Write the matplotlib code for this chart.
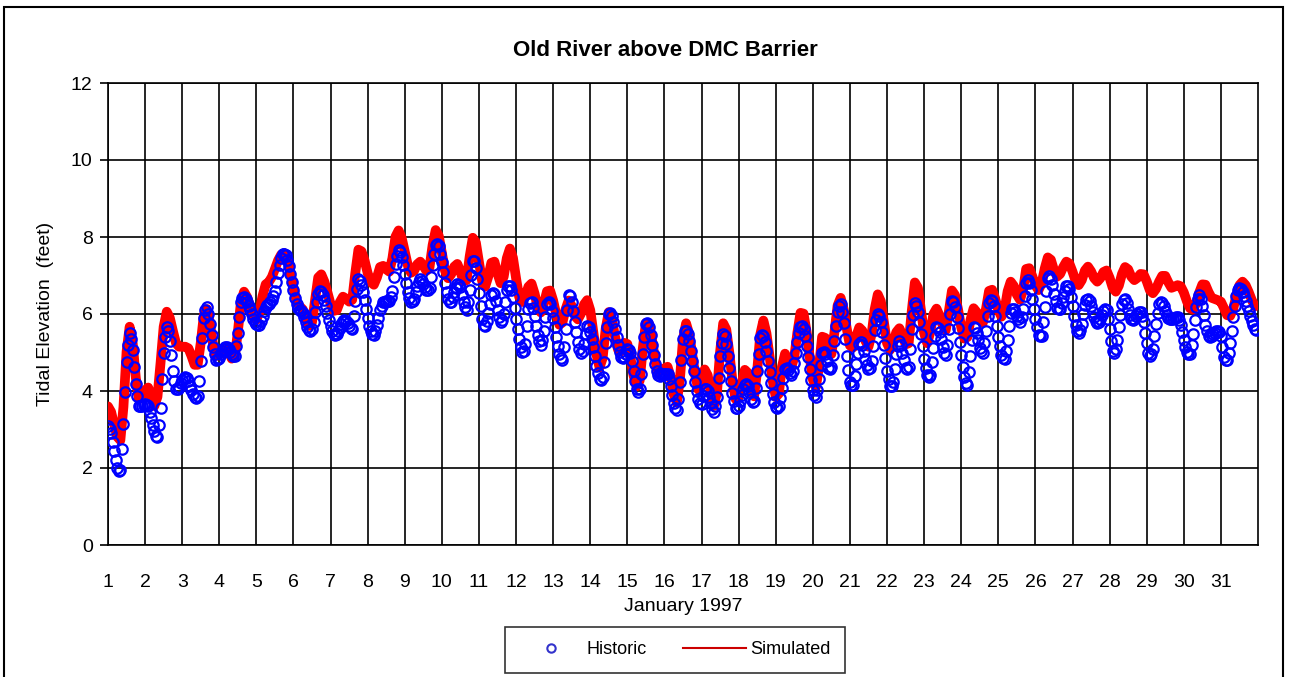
"""
Tidal elevation at Old River above the DMC Barrier, January 1997.
Historic record (open circles) against the simulated stage (red line).

Run:
    python plot.py
"""
import numpy as np
import matplotlib
matplotlib.use("Agg")
import matplotlib.pyplot as plt
from matplotlib.lines import Line2D
from matplotlib.patches import Rectangle

matplotlib.rcParams.update({
    'font.family': ['Liberation Sans', 'DejaVu Sans'],
    'font.size': 13,
    'axes.linewidth': 1.2,
})

TITLE = "Old River above DMC Barrier"
X_LABEL = "January 1997"
Y_LABEL = "Tidal Elevation  (feet)"
DAYS = list(range(1, 32))
Y_TICKS = [0, 2, 4, 6, 8, 10, 12]
HIST_PER_DAY = 24  # hourly gauge readings
SIM_PER_DAY = 12   # model output every two hours

# observed stage in feet, hourly from 1 Jan 00:00 (one row per day)
historic_ft = [
    3.10, 3.01, 2.90, 2.67, 2.43, 2.20, 2.00, 1.92, 1.96, 2.50, 3.14, 3.97, 4.76, 5.20, 5.50, 5.35, 5.06, 4.62, 4.17, 3.87, 3.62, 3.60, 3.62, 3.63,
    3.65, 3.64, 3.60, 3.46, 3.30, 3.12, 2.95, 2.84, 2.80, 3.12, 3.57, 4.30, 5.00, 5.40, 5.67, 5.55, 5.29, 4.93, 4.52, 4.26, 4.05, 4.05, 4.10, 4.20,
    4.29, 4.35, 4.37, 4.33, 4.25, 4.14, 4.03, 3.93, 3.85, 3.83, 3.87, 4.27, 4.78, 5.37, 5.90, 6.10, 6.17, 6.00, 5.75, 5.46, 5.15, 4.96, 4.81, 4.82,
    4.86, 4.95, 5.03, 5.10, 5.15, 5.14, 5.09, 5.02, 4.95, 4.92, 4.92, 5.17, 5.50, 5.92, 6.30, 6.42, 6.44, 6.40, 6.31, 6.21, 6.10, 5.99, 5.87, 5.79,
    5.73, 5.71, 5.72, 5.83, 5.96, 6.08, 6.18, 6.23, 6.27, 6.31, 6.36, 6.47, 6.61, 6.83, 7.06, 7.28, 7.46, 7.55, 7.57, 7.52, 7.40, 7.24, 7.05, 6.84,
    6.62, 6.42, 6.25, 6.15, 6.10, 6.07, 6.02, 5.91, 5.78, 5.66, 5.58, 5.56, 5.61, 5.80, 6.05, 6.30, 6.53, 6.60, 6.57, 6.49, 6.36, 6.20, 6.03, 5.85,
    5.68, 5.56, 5.47, 5.45, 5.48, 5.55, 5.64, 5.73, 5.81, 5.84, 5.82, 5.76, 5.68, 5.63, 5.62, 5.95, 6.33, 6.65, 6.90, 6.85, 6.75, 6.58, 6.36, 6.13,
    5.89, 5.70, 5.55, 5.47, 5.46, 5.57, 5.71, 5.90, 6.10, 6.22, 6.30, 6.32, 6.33, 6.34, 6.35, 6.45, 6.60, 6.95, 7.29, 7.50, 7.65, 7.60, 7.47, 7.27,
    7.03, 6.80, 6.58, 6.42, 6.31, 6.33, 6.40, 6.56, 6.73, 6.84, 6.90, 6.86, 6.79, 6.70, 6.63, 6.63, 6.68, 6.95, 7.26, 7.55, 7.80, 7.83, 7.76, 7.57,
    7.34, 7.08, 6.81, 6.58, 6.38, 6.32, 6.32, 6.43, 6.56, 6.68, 6.79, 6.76, 6.69, 6.51, 6.32, 6.18, 6.10, 6.30, 6.63, 7.02, 7.37, 7.38, 7.20, 6.90,
    6.54, 6.20, 5.88, 5.72, 5.68, 5.81, 6.03, 6.27, 6.49, 6.55, 6.52, 6.33, 6.10, 5.91, 5.78, 5.84, 6.01, 6.32, 6.62, 6.72, 6.74, 6.62, 6.43, 6.16,
    5.88, 5.60, 5.34, 5.15, 5.01, 5.05, 5.23, 5.68, 6.13, 6.28, 6.30, 6.16, 5.95, 5.70, 5.46, 5.30, 5.20, 5.33, 5.57, 5.93, 6.27, 6.32, 6.25, 6.09,
    5.89, 5.65, 5.40, 5.17, 4.95, 4.85, 4.80, 5.15, 5.62, 6.10, 6.50, 6.46, 6.32, 6.07, 5.80, 5.54, 5.28, 5.10, 4.98, 5.05, 5.23, 5.48, 5.68, 5.65,
    5.54, 5.35, 5.13, 4.90, 4.66, 4.47, 4.32, 4.28, 4.36, 4.75, 5.24, 5.65, 6.00, 6.03, 5.95, 5.80, 5.62, 5.40, 5.19, 5.02, 4.89, 4.86, 4.89, 4.97,
    5.08, 5.07, 4.99, 4.77, 4.51, 4.27, 4.05, 3.98, 4.04, 4.44, 4.95, 5.40, 5.75, 5.77, 5.65, 5.45, 5.19, 4.94, 4.69, 4.52, 4.41, 4.40, 4.43, 4.44,
    4.44, 4.45, 4.43, 4.30, 4.13, 3.90, 3.70, 3.55, 3.50, 3.80, 4.23, 4.80, 5.35, 5.55, 5.57, 5.48, 5.29, 5.05, 4.79, 4.51, 4.23, 4.00, 3.80, 3.70,
    3.67, 3.88, 4.05, 4.06, 3.99, 3.85, 3.68, 3.54, 3.46, 3.60, 3.84, 4.35, 4.91, 5.25, 5.48, 5.42, 5.23, 4.92, 4.59, 4.27, 3.96, 3.74, 3.57, 3.56,
    3.62, 3.75, 3.90, 4.04, 4.15, 4.18, 4.13, 3.97, 3.78, 3.72, 3.74, 4.08, 4.52, 4.97, 5.37, 5.45, 5.42, 5.27, 5.05, 4.78, 4.49, 4.20, 3.93, 3.72,
    3.58, 3.56, 3.62, 3.83, 4.09, 4.34, 4.56, 4.60, 4.55, 4.48, 4.41, 4.53, 4.73, 5.00, 5.27, 5.50, 5.66, 5.68, 5.62, 5.43, 5.18, 4.88, 4.57, 4.28,
    4.03, 3.90, 3.84, 4.02, 4.31, 4.67, 4.99, 5.02, 4.95, 4.78, 4.60, 4.58, 4.62, 4.93, 5.29, 5.68, 6.05, 6.20, 6.26, 6.06, 5.76, 5.35, 4.92, 4.55,
    4.23, 4.15, 4.16, 4.40, 4.70, 4.98, 5.23, 5.26, 5.20, 5.03, 4.83, 4.68, 4.56, 4.60, 4.79, 5.17, 5.58, 5.85, 6.01, 5.96, 5.80, 5.52, 5.20, 4.85,
    4.52, 4.30, 4.12, 4.13, 4.24, 4.58, 4.96, 5.17, 5.30, 5.20, 5.00, 4.80, 4.60, 4.56, 4.62, 5.10, 5.60, 5.98, 6.28, 6.22, 6.06, 5.80, 5.48, 5.16,
    4.84, 4.60, 4.41, 4.37, 4.42, 4.75, 5.11, 5.42, 5.65, 5.63, 5.53, 5.35, 5.14, 5.00, 4.93, 5.20, 5.60, 6.00, 6.35, 6.32, 6.18, 5.93, 5.63, 5.28,
    4.93, 4.62, 4.36, 4.20, 4.16, 4.50, 4.92, 5.32, 5.66, 5.63, 5.50, 5.32, 5.12, 5.03, 4.99, 5.24, 5.57, 5.95, 6.29, 6.37, 6.35, 6.20, 5.96, 5.69,
    5.41, 5.16, 4.94, 4.85, 4.82, 5.05, 5.33, 5.70, 6.02, 6.12, 6.13, 6.06, 5.95, 5.86, 5.80, 5.92, 6.12, 6.47, 6.80, 6.88, 6.80, 6.63, 6.40, 6.13,
    5.87, 5.65, 5.46, 5.42, 5.44, 5.80, 6.19, 6.60, 6.94, 7.00, 6.92, 6.75, 6.53, 6.33, 6.16, 6.12, 6.14, 6.28, 6.44, 6.60, 6.74, 6.72, 6.65, 6.45,
    6.22, 5.96, 5.72, 5.57, 5.50, 5.58, 5.75, 6.00, 6.23, 6.36, 6.40, 6.33, 6.21, 6.06, 5.91, 5.81, 5.76, 5.79, 5.87, 5.98, 6.09, 6.13, 6.10, 5.88,
    5.60, 5.30, 5.05, 5.00, 5.08, 5.33, 5.65, 5.97, 6.27, 6.37, 6.39, 6.28, 6.13, 5.98, 5.86, 5.85, 5.88, 5.94, 6.00, 6.04, 6.06, 5.96, 5.79, 5.50,
    5.24, 5.00, 4.90, 4.96, 5.10, 5.42, 5.75, 6.03, 6.25, 6.30, 6.29, 6.20, 6.09, 5.98, 5.89, 5.86, 5.86, 5.88, 5.90, 5.92, 5.93, 5.85, 5.72, 5.52,
    5.33, 5.15, 5.01, 4.95, 4.96, 5.20, 5.49, 5.85, 6.18, 6.38, 6.49, 6.40, 6.22, 5.98, 5.72, 5.55, 5.42, 5.41, 5.44, 5.47, 5.51, 5.55, 5.57, 5.52,
    5.43, 5.15, 4.89, 4.80, 4.80, 4.98, 5.24, 5.57, 5.91, 6.22, 6.48, 6.62, 6.67, 6.64, 6.57, 6.47, 6.35, 6.21, 6.07, 5.94, 5.81, 5.71, 5.62, 5.58,
]

# simulated stage in feet, 2-hourly from 1 Jan 00:00 (one row per day)
simulated_ft = [
    3.60, 3.46, 3.12, 2.81, 2.72, 3.59, 5.02, 5.67, 5.23, 4.34, 3.79, 3.84,
    4.02, 4.09, 3.86, 3.61, 3.85, 4.73, 5.67, 6.06, 5.90, 5.56, 5.24, 5.15,
    5.15, 5.15, 5.11, 4.91, 4.68, 4.68, 5.25, 5.97, 6.13, 5.75, 5.21, 4.91,
    4.95, 5.07, 5.15, 5.05, 4.84, 4.89, 5.53, 6.31, 6.58, 6.44, 6.19, 5.95,
    5.85, 6.05, 6.47, 6.77, 6.83, 6.96, 7.17, 7.39, 7.54, 7.58, 7.41, 7.08,
    6.68, 6.34, 6.20, 6.12, 5.88, 5.69, 5.79, 6.37, 6.95, 7.03, 6.84, 6.56,
    6.26, 6.08, 6.10, 6.31, 6.45, 6.40, 6.32, 6.37, 7.07, 7.67, 7.63, 7.39,
    7.06, 6.83, 6.76, 6.95, 7.22, 7.25, 7.16, 7.10, 7.45, 8.01, 8.17, 7.98,
    7.62, 7.26, 7.07, 7.12, 7.29, 7.36, 7.25, 7.12, 7.21, 7.79, 8.18, 8.03,
    7.59, 7.13, 6.93, 7.03, 7.23, 7.30, 7.10, 6.85, 6.88, 7.50, 7.98, 7.86,
    7.35, 6.86, 6.71, 6.97, 7.33, 7.36, 7.05, 6.80, 6.97, 7.45, 7.70, 7.46,
    6.93, 6.44, 6.31, 6.47, 6.71, 6.79, 6.53, 6.17, 6.04, 6.27, 6.59, 6.61,
    6.35, 5.99, 5.72, 5.78, 6.12, 6.35, 6.21, 5.95, 5.86, 6.01, 6.25, 6.36,
    6.10, 5.53, 4.95, 4.61, 4.85, 5.63, 6.05, 5.86, 5.42, 5.07, 5.03, 5.25,
    5.22, 4.87, 4.40, 4.12, 4.27, 5.11, 5.77, 5.75, 5.32, 4.79, 4.50, 4.53,
    4.59, 4.63, 4.37, 3.91, 3.70, 4.30, 5.35, 5.76, 5.48, 4.95, 4.39, 4.03,
    4.15, 4.56, 4.41, 3.94, 3.61, 3.97, 5.02, 5.76, 5.60, 4.99, 4.26, 3.79,
    3.83, 4.21, 4.55, 4.47, 4.03, 3.86, 4.54, 5.47, 5.83, 5.50, 4.90, 4.27,
    3.84, 3.93, 4.63, 4.97, 4.77, 4.60, 4.88, 5.52, 6.03, 6.01, 5.53, 4.88,
    4.30, 4.10, 4.64, 5.41, 5.38, 5.00, 4.96, 5.53, 6.22, 6.42, 6.12, 5.61,
    5.18, 5.13, 5.41, 5.65, 5.57, 5.30, 5.15, 5.47, 6.12, 6.51, 6.33, 5.79,
    5.24, 5.07, 5.25, 5.53, 5.63, 5.45, 5.21, 5.24, 6.08, 6.82, 6.68, 6.10,
    5.50, 5.24, 5.53, 6.00, 6.14, 5.95, 5.70, 5.58, 6.07, 6.61, 6.49, 6.11,
    5.65, 5.36, 5.40, 5.85, 6.15, 6.05, 5.84, 5.77, 6.13, 6.60, 6.63, 6.40,
    6.10, 5.93, 6.10, 6.59, 6.84, 6.73, 6.50, 6.37, 6.62, 7.17, 7.19, 6.98,
    6.74, 6.62, 6.79, 7.18, 7.47, 7.41, 7.14, 6.97, 7.04, 7.22, 7.36, 7.31,
    7.10, 6.86, 6.75, 6.88, 7.13, 7.23, 7.11, 6.93, 6.84, 6.93, 7.09, 7.13,
    6.94, 6.68, 6.58, 6.74, 7.04, 7.22, 7.16, 6.97, 6.88, 6.94, 7.04, 7.03,
    6.85, 6.62, 6.54, 6.65, 6.84, 6.99, 6.99, 6.82, 6.68, 6.71, 6.75, 6.72,
    6.56, 6.33, 6.15, 6.11, 6.28, 6.56, 6.77, 6.76, 6.57, 6.42, 6.39, 6.36,
    6.32, 6.15, 5.97, 5.95, 6.14, 6.48, 6.75, 6.84, 6.75, 6.57, 6.36, 6.20,
]

HIST_COLOR = "#0000FF"
SIM_COLOR = "#FF0000"


def make_figure() -> None:
    fig = plt.figure(figsize=(12.9, 6.77), dpi=100)
    ax = fig.add_axes([108 / 1290, 1 - 545 / 677, 1150 / 1290, 462 / 677])

    t_hist = DAYS[0] + np.arange(len(historic_ft)) / HIST_PER_DAY
    t_sim = DAYS[0] + np.arange(len(simulated_ft)) / SIM_PER_DAY

    ax.plot(t_sim, simulated_ft, color=SIM_COLOR, linewidth=7,
            solid_capstyle="round", solid_joinstyle="round", zorder=3)
    ax.plot(t_hist, historic_ft, linestyle="none", marker="o",
            markersize=7.5, markerfacecolor="none", markeredgecolor=HIST_COLOR,
            markeredgewidth=1.6, zorder=4)

    ax.set_xlim(DAYS[0], DAYS[-1] + 1)
    ax.set_ylim(Y_TICKS[0], Y_TICKS[-1])
    ax.set_xticks(DAYS)
    ax.set_xticklabels([str(d) for d in DAYS])
    ax.set_yticks(Y_TICKS)
    ax.grid(True, color="black", linewidth=1.2)
    ax.set_axisbelow(True)
    ax.tick_params(axis="both", direction="out", length=6, width=1.2,
                   labelsize=14, colors="black", pad=5)
    ax.tick_params(axis="x", length=0, pad=21)
    for sp in ax.spines.values():
        sp.set_color("black")

    ax.set_xlabel(X_LABEL, fontsize=14, labelpad=5)
    ax.set_ylabel(Y_LABEL, fontsize=14, labelpad=12)
    fig.text(0.516, 1 - 50 / 677, TITLE, ha="center", va="center",
             fontsize=16, fontweight="bold")

    handles = [
        Line2D([], [], linestyle="none", marker="o", markersize=6,
               markerfacecolor="none", markeredgecolor="#3333CC",
               markeredgewidth=1.5, label="Historic"),
        Line2D([], [], color="#CC0000", linewidth=1.5, label="Simulated"),
    ]
    leg = fig.legend(handles=handles, loc="center", ncol=2,
                     bbox_to_anchor=(675 / 1290, 1 - 650 / 677),
                     fontsize=13, frameon=True, fancybox=False,
                     handlelength=3.5, columnspacing=2.0, borderpad=0.8,
                     handletextpad=0.2)
    leg.get_frame().set_edgecolor("black")
    leg.get_frame().set_linewidth(1.2)

    # outer chart frame
    fig.patches.append(Rectangle((4 / 1290, -0.02), 1279 / 1290, 1.02 - 7 / 677,
                                 transform=fig.transFigure, fill=False,
                                 edgecolor="black", linewidth=1.5))

    fig.savefig("out.png", dpi=100)
    plt.close(fig)


if __name__ == "__main__":
    make_figure()
